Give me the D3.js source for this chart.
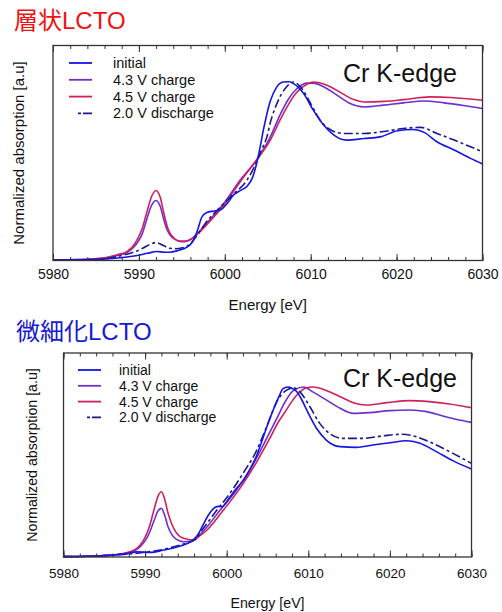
<!DOCTYPE html>
<html>
<head>
<meta charset="utf-8">
<script src="https://cdn.jsdelivr.net/npm/d3@7"></script>
<style>
  body { margin: 0; background: #fff; }
  svg text { font-family: "Liberation Sans", Arial, "Noto Sans CJK JP", sans-serif; }
</style>
</head>
<body>
<div id="chart"></div>
<script>
// ---- data (energy eV, normalized absorption) ----
var seriesNames = ["initial", "4.3 V charge", "4.5 V charge", "2.0 V discharge"];
var panelTitles = ["層状LCTO", "微細化LCTO"];
var tickLabels = [5980, 5990, 6000, 6010, 6020, 6030];

// layered LCTO
var layeredInitial = [[5980,0.003],[5983,0.004],[5985,0.006],[5986.5,0.01],[5987.8,0.015],[5989,0.022],[5989.8,0.028],[5991,0.04],[5992.1,0.05],[5993,0.046],[5993.6,0.046],[5994.5,0.055],[5995.2,0.065],[5995.9,0.085],[5996.4,0.117],[5996.9,0.18],[5997.3,0.24],[5997.9,0.268],[5998.7,0.276],[5999.5,0.283],[6000.3,0.32],[6001.0,0.365],[6001.8,0.39],[6002.6,0.415],[6003.2,0.46],[6003.7,0.54],[6004.1,0.63],[6004.5,0.73],[6005.3,0.89],[6006.0,0.965],[6006.8,0.996],[6007.5,0.998],[6008.0,0.987],[6008.6,0.965],[6009.2,0.93],[6010.3,0.839],[6011.5,0.756],[6012.7,0.7],[6014.2,0.672],[6016.2,0.681],[6018.1,0.69],[6020.1,0.724],[6022.0,0.731],[6023.2,0.715],[6024.7,0.663],[6026.7,0.617],[6028.6,0.57],[6030,0.539]];
var layered43 = [[5980,0.003],[5983,0.005],[5985,0.009],[5986.5,0.018],[5987.6,0.03],[5988.6,0.045],[5989.3,0.07],[5989.8,0.098],[5990.4,0.15],[5990.9,0.228],[5991.5,0.31],[5992.0,0.335],[5992.5,0.3],[5992.9,0.228],[5993.3,0.17],[5993.6,0.144],[5994.2,0.118],[5994.8,0.107],[5995.4,0.107],[5996.0,0.117],[5997.0,0.16],[5997.9,0.209],[5999.9,0.32],[6001.8,0.45],[6003.7,0.561],[6005.3,0.69],[6006.5,0.82],[6007.4,0.9],[6008.4,0.96],[6009.6,0.99],[6010.3,0.99],[6011.5,0.97],[6013.1,0.922],[6014.6,0.876],[6016.2,0.857],[6018.5,0.867],[6020.8,0.88],[6023.2,0.89],[6025.5,0.88],[6027.8,0.865],[6030,0.848]];
var layered45 = [[5980,0.003],[5983,0.005],[5985,0.01],[5986.5,0.02],[5987.6,0.034],[5988.6,0.05],[5989.3,0.08],[5989.8,0.117],[5990.4,0.18],[5990.9,0.265],[5991.5,0.36],[5992.0,0.391],[5992.5,0.35],[5992.9,0.265],[5993.3,0.19],[5993.6,0.154],[5994.2,0.12],[5994.8,0.107],[5995.4,0.107],[5996.0,0.117],[5997.0,0.155],[5997.9,0.2],[5999.9,0.31],[6001.8,0.44],[6003.7,0.561],[6005.3,0.672],[6006.5,0.79],[6007.4,0.87],[6008.4,0.94],[6009.6,0.985],[6010.3,0.996],[6011.9,0.978],[6013.4,0.94],[6015.0,0.898],[6016.2,0.885],[6018.5,0.888],[6020.8,0.898],[6023.9,0.913],[6026.3,0.91],[6030,0.894]];
var layered20 = [[5980,0.003],[5983,0.004],[5985,0.007],[5986.5,0.013],[5987.5,0.022],[5988.6,0.035],[5989.6,0.05],[5990.5,0.07],[5991.3,0.09],[5992.0,0.1],[5992.8,0.085],[5993.6,0.068],[5994.4,0.066],[5995.2,0.072],[5995.9,0.09],[5996.4,0.117],[5997.2,0.17],[5997.9,0.218],[5998.7,0.26],[5999.5,0.3],[6001.0,0.37],[6002.6,0.45],[6003.7,0.55],[6004.3,0.62],[6004.9,0.69],[6005.3,0.77],[6006.1,0.88],[6007.2,0.97],[6008.0,0.996],[6008.8,0.97],[6010.0,0.876],[6011.1,0.783],[6012.3,0.73],[6013.8,0.709],[6016.2,0.709],[6018.5,0.72],[6020.8,0.737],[6022.8,0.743],[6024.7,0.709],[6026.7,0.672],[6028.6,0.635],[6030,0.607]];

// fine LCTO
var fineInitial = [[5980,0.002],[5983,0.004],[5985,0.008],[5986.5,0.013],[5987.8,0.02],[5989,0.03],[5990.6,0.027],[5992.3,0.041],[5993.5,0.053],[5994.7,0.07],[5995.6,0.09],[5996.3,0.12],[5996.8,0.16],[5997.2,0.198],[5997.8,0.25],[5998.4,0.286],[5999.0,0.298],[5999.4,0.296],[6000.2,0.34],[6001.2,0.404],[6002.1,0.455],[6002.9,0.52],[6003.7,0.6],[6004.5,0.708],[6005.1,0.79],[6005.7,0.865],[6006.4,0.943],[6006.9,0.99],[6007.5,1.0],[6008.0,0.993],[6008.6,0.972],[6009.2,0.925],[6009.8,0.865],[6011.0,0.757],[6012.2,0.688],[6013.9,0.649],[6015.9,0.645],[6017.9,0.659],[6020.0,0.672],[6022.0,0.684],[6023.6,0.67],[6025.7,0.62],[6027.7,0.567],[6030,0.518]];
var fine43 = [[5980,0.002],[5983,0.004],[5985,0.008],[5986.5,0.013],[5987.8,0.02],[5988.8,0.04],[5989.4,0.061],[5990.0,0.095],[5990.6,0.15],[5991.1,0.215],[5991.6,0.272],[5992.0,0.286],[5992.4,0.245],[5992.8,0.18],[5993.3,0.13],[5993.8,0.105],[5994.7,0.09],[5995.9,0.096],[5996.7,0.13],[5997.6,0.178],[5999.2,0.276],[6001.2,0.394],[6003.3,0.551],[6004.9,0.698],[6006.4,0.84],[6006.9,0.89],[6008.2,0.98],[6009.4,1.0],[6010.6,0.97],[6012.2,0.924],[6013.9,0.875],[6015.5,0.845],[6017.5,0.849],[6020.0,0.861],[6022.4,0.865],[6024.5,0.855],[6026.5,0.829],[6028.1,0.81],[6030,0.792]];
var fine45 = [[5980,0.002],[5983,0.004],[5985,0.008],[5986.5,0.015],[5987.8,0.027],[5988.8,0.045],[5989.4,0.07],[5990.0,0.115],[5990.6,0.19],[5991.1,0.28],[5991.6,0.36],[5992.0,0.384],[5992.4,0.34],[5992.8,0.26],[5993.3,0.19],[5993.8,0.145],[5994.7,0.11],[5995.9,0.1],[5996.7,0.125],[5997.6,0.159],[5999.6,0.276],[6001.6,0.402],[6003.7,0.561],[6005.3,0.7],[6006.4,0.8],[6006.9,0.835],[6008.6,0.953],[6009.8,0.995],[6010.6,1.0],[6012.2,0.98],[6013.9,0.943],[6015.5,0.908],[6017.1,0.894],[6019.6,0.908],[6022.4,0.92],[6024.8,0.914],[6027.3,0.9],[6030,0.878]];
var fine20 = [[5980,0.002],[5983,0.004],[5985,0.008],[5986.5,0.013],[5988.6,0.02],[5990.3,0.03],[5991.9,0.041],[5993.3,0.058],[5994.7,0.076],[5995.6,0.09],[5996.3,0.11],[5997.0,0.16],[5997.6,0.198],[5998.8,0.276],[6000.4,0.375],[6002.0,0.492],[6003.7,0.63],[6004.5,0.72],[6005.3,0.816],[6006.1,0.91],[6007.3,0.98],[6008.2,0.995],[6009.0,0.97],[6010.2,0.884],[6011.4,0.786],[6012.6,0.727],[6014.2,0.698],[6016.7,0.698],[6019.1,0.712],[6021.5,0.722],[6023.2,0.708],[6024.8,0.678],[6027.3,0.62],[6030,0.551]];

var colors = ["#1414e6", "#6a30d0", "#d01f5e", "#1a1a8c"];
var dashes = [null, null, null, "9,3,3,3"];

var svg = d3.select("#chart").append("svg")
    .attr("width", 502)
    .attr("height", 612);

var panels = [
    {title: panelTitles[0], titleColor: "#f21212", titleX: 14, titleY: 29,
     data: [layeredInitial, layered43, layered45, layered20],
     left: 53, right: 482.5, top: 45.5, bottom: 260.5,
     tickFont: 14, labelFont: 15, labelPad: 9, xLabelY: 310, yLabelX: 24,
     legX: 69, legTextX: 113, legY: 63, legStep: 16.8, legFont: 14.5, edgeY: 82},
    {title: panelTitles[1], titleColor: "#1818d2", titleX: 16, titleY: 340,
     data: [fineInitial, fine43, fine45, fine20],
     left: 63.5, right: 471.5, top: 353, bottom: 557,
     tickFont: 13.5, labelFont: 14.2, labelPad: 11, xLabelY: 608, yLabelX: 37,
     legX: 78, legTextX: 119, legY: 370, legStep: 15.8, legFont: 14, edgeY: 387}
];

panels.forEach(function (p) {
    var x = d3.scaleLinear().domain([5980, 6030]).range([p.left, p.right]);
    var y = d3.scaleLinear().domain([0, 1.2]).range([p.bottom, p.top]);
    var g = svg.append("g");

    g.append("text")
        .attr("x", p.titleX)
        .attr("y", p.titleY)
        .style("font-size", "24px")
        .style("fill", p.titleColor)
        .text(p.title);

    var line = d3.line()
        .x(function (d) { return x(d[0]); })
        .y(function (d) { return y(d[1]); })
        .curve(d3.curveMonotoneX);

    // draw order: 4.3, 4.5, discharge, initial
    [1, 2, 3, 0].forEach(function (i) {
        g.append("path")
            .datum(p.data[i])
            .attr("d", line)
            .attr("fill", "none")
            .attr("stroke", colors[i])
            .attr("stroke-width", 1.6)
            .attr("stroke-dasharray", dashes[i]);
    });

    // ticks, inward on bottom and top
    var minor = d3.range(5980, 6031, 2);
    g.append("g")
        .attr("transform", "translate(0," + p.bottom + ")")
        .call(d3.axisBottom(x).tickValues(minor).tickSize(-3.5).tickFormat(""))
        .call(function (a) { a.select(".domain").remove(); });
    g.append("g")
        .attr("transform", "translate(0," + p.bottom + ")")
        .call(d3.axisBottom(x).tickValues(tickLabels).tickSize(-6.5).tickPadding(p.labelPad).tickFormat(d3.format("d")))
        .call(function (a) {
            a.select(".domain").remove();
            a.selectAll("text").style("font-size", p.tickFont + "px").style("fill", "#111")
                .attr("font-family", null);
        });
    g.append("g")
        .attr("transform", "translate(0," + p.top + ")")
        .call(d3.axisTop(x).tickValues(minor).tickSize(-3.5).tickFormat(""))
        .call(function (a) { a.select(".domain").remove(); });
    g.append("g")
        .attr("transform", "translate(0," + p.top + ")")
        .call(d3.axisTop(x).tickValues(tickLabels).tickSize(-6.5).tickFormat(""))
        .call(function (a) { a.select(".domain").remove(); });
    g.selectAll(".tick line").attr("stroke", "#333").attr("stroke-width", 1);

    g.append("rect")
        .attr("x", p.left)
        .attr("y", p.top)
        .attr("width", p.right - p.left)
        .attr("height", p.bottom - p.top)
        .attr("fill", "none")
        .attr("stroke", "#333")
        .attr("stroke-width", 1.3);

    g.append("text")
        .attr("x", (p.left + p.right) / 2)
        .attr("y", p.xLabelY)
        .attr("text-anchor", "middle")
        .style("font-size", p.labelFont + "px")
        .style("fill", "#111")
        .text("Energy [eV]");

    g.append("text")
        .attr("transform", "translate(" + p.yLabelX + "," + ((p.top + p.bottom) / 2) + ") rotate(-90)")
        .attr("text-anchor", "middle")
        .style("font-size", p.labelFont + "px")
        .style("fill", "#111")
        .text("Normalized absorption [a.u]");

    g.append("text")
        .attr("x", 343)
        .attr("y", p.edgeY)
        .style("font-size", "25px")
        .style("fill", "#111")
        .text("Cr K-edge");

    // legend
    seriesNames.forEach(function (name, i) {
        var ly = p.legY + i * p.legStep;
        var x1 = i === 3 ? p.legX + 9 : p.legX;
        g.append("line")
            .attr("x1", x1).attr("x2", p.legX + 23)
            .attr("y1", ly).attr("y2", ly)
            .attr("stroke", colors[i])
            .attr("stroke-width", 1.8)
            .attr("stroke-dasharray", i === 3 ? "3,2,9" : null);
        g.append("text")
            .attr("x", p.legTextX)
            .attr("y", ly)
            .attr("dy", "0.35em")
            .style("font-size", p.legFont + "px")
            .style("fill", "#111")
            .text(name);
    });
});
</script>
</body>
</html>
